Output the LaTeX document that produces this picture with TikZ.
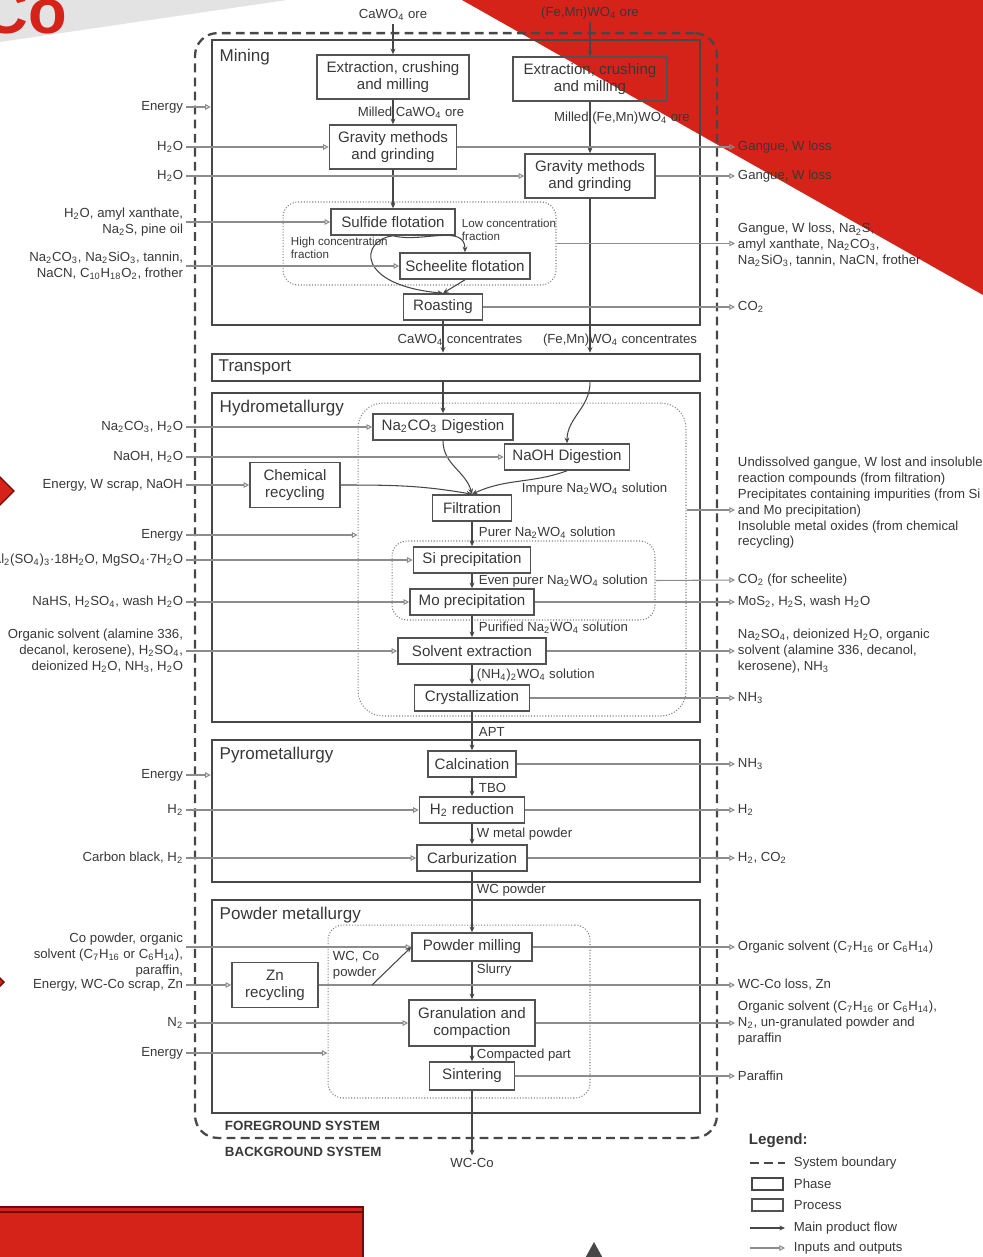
\documentclass[tikz,border=0pt]{standalone}
\usepackage{fontspec}
\setmainfont{Liberation Sans}
\usepackage{xcolor}
\usetikzlibrary{arrows.meta}
\definecolor{slidered}{RGB}{213,35,26}
\definecolor{slidedark}{RGB}{110,12,8}
\newcommand{\ssub}[1]{\textsubscript{#1}}

\begin{document}
\begin{tikzpicture}[x=0.02cm, y=-0.02cm,
    every node/.style={text=black!78, inner sep=1.5pt},
    proc/.style={draw=black!68, line width=0.9pt,
        minimum height=0.52cm, inner sep=1pt, align=center, font=\fontsize{8.6}{9.8}\selectfont},
    phasebox/.style={draw=black!72, line width=1.5pt, inner sep=0pt},
    region/.style={draw=black!50, densely dotted, line width=0.6pt, rounded corners=0.3cm, inner sep=0pt},
    sysbound/.style={draw=black!72, line width=1.3pt, dash pattern=on 5pt off 3pt},
    phasename/.style={font=\fontsize{9.7}{11}\selectfont, anchor=north west},
    lbl/.style={font=\fontsize{7.5}{9}\selectfont},
    smalllbl/.style={font=\fontsize{6.6}{7.6}\selectfont},
    inlbl/.style={lbl, anchor=east, align=right},
    outlbl/.style={lbl, anchor=west, align=left},
    flowlbl/.style={lbl, anchor=west},
    main/.style={draw=black!72, line width=0.6pt, -{Stealth[length=3.2pt,width=2.8pt]}},
    io/.style={draw=black!45, line width=0.6pt, -{Triangle[open,length=3.2pt,width=3.2pt]}}]
        \useasboundingbox (0,0) rectangle (983,1257);
        % Slide decoration
        \fill[black!11] (0,0) -- (287,0) -- (0,42) -- cycle;
        \node[font=\bfseries\fontsize{36}{36}\selectfont, text=slidered, anchor=base east, inner sep=0pt] (cotitle) at (67,34) {Co};
        \fill[slidered] (462,0) -- (983,0) -- (983,295) -- cycle;
        \filldraw[fill=slidered, draw=slidedark, line width=0.8pt] (-14,491) -- (0,477) -- (14,491) -- (0,505) -- cycle;
        \filldraw[fill=slidered, draw=slidedark, line width=0.8pt] (-14,982) -- (-5,973) -- (4,982) -- (-5,991) -- cycle;
        \filldraw[fill=slidered, draw=slidedark, line width=1.2pt] (-5,1207) rectangle (363,1262);
        \draw[slidedark, line width=0.6pt] (-5,1212) -- (363,1212);
        \fill[black!72] (583,1262) -- (594,1242) -- (605,1262) -- cycle;

        % System boundary and phases
        \node[sysbound, rounded corners=0.45cm, minimum width=10.44cm, minimum height=22.1cm] (sys) at (456,585.5) {};
        \node[phasebox, minimum width=9.76cm, minimum height=5.7cm] (mining) at (456,182.5) {};
        \node[phasename] at ([xshift=0.12cm,yshift=-0.14cm]mining.north west) {Mining};
        \node[phasebox, minimum width=9.76cm, minimum height=0.54cm] (transport) at (456,367.5) {};
        \node[phasename, anchor=west] at ([xshift=0.1cm]transport.west) {Transport};
        \node[phasebox, minimum width=9.76cm, minimum height=6.58cm] (hydro) at (456,557.5) {};
        \node[phasename] at ([xshift=0.12cm,yshift=-0.1cm]hydro.north west) {Hydrometallurgy};
        \node[phasebox, minimum width=9.76cm, minimum height=2.84cm] (pyro) at (456,811) {};
        \node[phasename] at ([xshift=0.12cm,yshift=-0.1cm]pyro.north west) {Pyrometallurgy};
        \node[phasebox, minimum width=9.76cm, minimum height=4.26cm] (powder) at (456,1006.5) {};
        \node[phasename] at ([xshift=0.12cm,yshift=-0.1cm]powder.north west) {Powder metallurgy};

        % Grouped steps
        \node[region, minimum width=5.46cm, minimum height=1.66cm] (flot) at (419.5,243.5) {};
        \node[region, rounded corners=0.5cm, minimum width=6.56cm, minimum height=6.26cm] (hreg) at (522,559.5) {};
        \node[region, minimum width=5.26cm, minimum height=1.58cm] (preg) at (523.5,580.5) {};
        \node[region, minimum width=5.24cm, minimum height=3.46cm] (pmreg) at (459,1011.5) {};

        % Mining
        \node[proc, minimum width=3.04cm, minimum height=0.88cm] (ext1) at (393,77) {Extraction, crushing\\and milling};
        \node[proc, minimum width=3.08cm, minimum height=0.88cm] (ext2) at (590,79) {Extraction, crushing\\and milling};
        \node[proc, minimum width=2.54cm, minimum height=0.88cm] (grav1) at (393,147) {Gravity methods\\and grinding};
        \node[proc, minimum width=2.6cm, minimum height=0.88cm] (grav2) at (590,176) {Gravity methods\\and grinding};
        \node[proc, minimum width=2.48cm] (sulf) at (393,222) {Sulfide flotation};
        \node[proc, minimum width=2.6cm] (sche) at (465,266) {Scheelite flotation};
        \node[proc, minimum width=1.58cm] (roast) at (443,307) {Roasting};
        % Hydrometallurgy
        \node[proc, minimum width=2.8cm] (naco) at (443,427) {Na\ssub{2}CO\ssub{3} Digestion};
        \node[proc, minimum width=2.5cm] (naoh) at (567,457) {NaOH Digestion};
        \node[proc, minimum width=1.8cm, minimum height=0.9cm] (chem) at (295,485) {Chemical\\recycling};
        \node[proc, minimum width=1.58cm] (filt) at (472,508) {Filtration};
        \node[proc, minimum width=2.34cm] (sipr) at (472,560) {Si precipitation};
        \node[proc, minimum width=2.48cm] (mopr) at (472,602) {Mo precipitation};
        \node[proc, minimum width=2.96cm] (solv) at (472,651) {Solvent extraction};
        \node[proc, minimum width=2.3cm] (crys) at (472,698) {Crystallization};
        % Pyrometallurgy
        \node[proc, minimum width=1.76cm] (calc) at (472,764) {Calcination};
        \node[proc, minimum width=2.1cm] (h2red) at (472,810) {H\ssub{2} reduction};
        \node[proc, minimum width=2.2cm] (carb) at (472,858) {Carburization};
        % Powder metallurgy
        \node[proc, minimum width=2.4cm, minimum height=0.56cm] (pmill) at (472,947) {Powder milling};
        \node[proc, minimum width=1.72cm, minimum height=0.9cm] (zn) at (275,985) {Zn\\recycling};
        \node[proc, minimum width=2.52cm, minimum height=0.92cm] (gran) at (472,1023) {Granulation and\\compaction};
        \node[proc, minimum width=1.7cm, minimum height=0.56cm] (sint) at (472,1076) {Sintering};

        % Main product flow
        \node[lbl] (oreCa) at (393,15) {CaWO\ssub{4} ore};
        \node[lbl] (oreFe) at (590,13) {(Fe,Mn)WO\ssub{4} ore};
        \draw[main] (oreCa) -- (ext1);
        \draw[main] (oreFe) -- (ext2);
        \draw[main] (ext1) -- (grav1);
        \node[lbl] at (411,113) {Milled CaWO\ssub{4} ore};
        \draw[main] (ext2) -- (grav2);
        \node[lbl] at (622,118) {Milled (Fe,Mn)WO\ssub{4} ore};
        \draw[main] (grav1) -- (sulf);
        \draw[main] (sulf.south) to[out=-15,in=90] (sche.north);
        \node[smalllbl, anchor=west, align=left] at (459,230) {Low concentration\\fraction};
        \draw[main] (sulf.south) .. controls (360,240) and (355,285) .. (roast.north);
        \node[smalllbl, anchor=west, align=left] at (288,248) {High concentration\\fraction};
        \draw[main] (sche.south) -- (roast.north);
        \draw[main] (roast.south) -- (roast.south |- transport.north);
        \draw[main] (grav2.south) -- (grav2.south |- transport.north);
        \node[lbl] at (460,340) {CaWO\ssub{4} concentrates};
        \node[lbl] at (620,340) {(Fe,Mn)WO\ssub{4} concentrates};
        \draw[main] (roast.south |- transport.south) -- (naco.north);
        \draw[main] (grav2.south |- transport.south) to[out=-90,in=90] (naoh.north);
        \draw[main] (naco.south) to[out=-90,in=105] (filt.north);
        \draw[main] (naoh.south) to[out=-160,in=25] (filt.north);
        \draw[main] (chem.east) to[out=0,in=170] (filt.north);
        \node[flowlbl] at (519,489) {Impure Na\ssub{2}WO\ssub{4} solution};
        \draw[main] (filt) -- (sipr);
        \node[flowlbl] at (476,533) {Purer Na\ssub{2}WO\ssub{4} solution};
        \draw[main] (sipr) -- (mopr);
        \node[flowlbl] at (476,581) {Even purer Na\ssub{2}WO\ssub{4} solution};
        \draw[main] (mopr) -- (solv);
        \node[flowlbl] at (476,628) {Purified Na\ssub{2}WO\ssub{4} solution};
        \draw[main] (solv) -- (crys);
        \node[flowlbl] at (474,675) {(NH\ssub{4})\ssub{2}WO\ssub{4} solution};
        \draw[main] (crys) -- (calc);
        \node[flowlbl] at (476,732) {APT};
        \draw[main] (calc) -- (h2red);
        \node[flowlbl] at (476,788) {TBO};
        \draw[main] (h2red) -- (carb);
        \node[flowlbl] at (474,834) {W metal powder};
        \draw[main] (carb) -- (pmill);
        \node[flowlbl] at (474,890) {WC powder};
        \draw[main] (pmill) -- (gran);
        \node[flowlbl] at (474,970) {Slurry};
        \draw[main] (gran) -- (sint);
        \node[flowlbl] at (474,1055) {Compacted part};
        \node[lbl] (wcco) at (472,1163) {WC-Co};
        \draw[main] (sint) -- (wcco);

        % Inputs
        \node[inlbl] (inM1) at (186,107) {Energy};
        \draw[io] (inM1.east) -- (inM1.east -| mining.west);
        \node[inlbl] (inM2) at (186,147) {H\ssub{2}O};
        \draw[io] (inM2.east) -- (grav1.west);
        \node[inlbl] (inM3) at (186,176) {H\ssub{2}O};
        \draw[io] (inM3.east) -- (grav2.west);
        \node[inlbl] (inM4) at (186,222) {H\ssub{2}O, amyl xanthate,\\Na\ssub{2}S, pine oil};
        \draw[io] (inM4.east) -- (sulf.west);
        \node[inlbl] (inM5) at (186,266) {Na\ssub{2}CO\ssub{3}, Na\ssub{2}SiO\ssub{3}, tannin,\\NaCN, C\ssub{10}H\ssub{18}O\ssub{2}, frother};
        \draw[io] (inM5.east) -- (sche.west);
        \node[inlbl] (inH1) at (186,427) {Na\ssub{2}CO\ssub{3}, H\ssub{2}O};
        \draw[io] (inH1.east) -- (naco.west);
        \node[inlbl] (inH2) at (186,457) {NaOH, H\ssub{2}O};
        \draw[io] (inH2.east) -- (naoh.west);
        \node[inlbl] (inH3) at (186,485) {Energy, W scrap, NaOH};
        \draw[io] (inH3.east) -- (chem.west);
        \node[inlbl] (inH4) at (186,535) {Energy};
        \draw[io] (inH4.east) -- (inH4.east -| hreg.west);
        \node[inlbl] (inH5) at (186,560) {Al\ssub{2}(SO\ssub{4})\ssub{3}·18H\ssub{2}O, MgSO\ssub{4}·7H\ssub{2}O};
        \draw[io] (inH5.east) -- (sipr.west);
        \node[inlbl] (inH6) at (186,602) {NaHS, H\ssub{2}SO\ssub{4}, wash H\ssub{2}O};
        \draw[io] (inH6.east) -- (mopr.west);
        \node[inlbl] (inH7) at (186,651) {Organic solvent (alamine 336,\\decanol, kerosene), H\ssub{2}SO\ssub{4},\\deionized H\ssub{2}O, NH\ssub{3}, H\ssub{2}O};
        \draw[io] (inH7.east) -- (solv.west);
        \node[inlbl] (inP1) at (186,775) {Energy};
        \draw[io] (inP1.east) -- (inP1.east -| pyro.west);
        \node[inlbl] (inP2) at (186,810) {H\ssub{2}};
        \draw[io] (inP2.east) -- (h2red.west);
        \node[inlbl] (inP3) at (186,858) {Carbon black, H\ssub{2}};
        \draw[io] (inP3.east) -- (carb.west);
        \node[inlbl] (inW1) at (186,955) {Co powder, organic\\solvent (C\ssub{7}H\ssub{16} or C\ssub{6}H\ssub{14}),\\paraffin,};
        \draw[io] (inW1.east |- pmill.west) -- (pmill.west);
        \node[inlbl] (inW2) at (186,985) {Energy, WC-Co scrap, Zn};
        \draw[io] (inW2.east) -- (zn.west);
        \node[inlbl] (inW3) at (186,1023) {N\ssub{2}};
        \draw[io] (inW3.east) -- (gran.west);
        \node[inlbl] (inW4) at (186,1053) {Energy};
        \draw[io] (inW4.east) -- (inW4.east -| pmreg.west);

        % Outputs
        \node[outlbl] (outM1) at (735,147) {Gangue, W loss};
        \draw[io] (grav1.east) -- (outM1.west);
        \node[outlbl] (outM2) at (735,176) {Gangue, W loss};
        \draw[io] (grav2.east) -- (outM2.west);
        \node[outlbl] (outM3) at (735,245) {Gangue, W loss, Na\ssub{2}S,\\amyl xanthate, Na\ssub{2}CO\ssub{3},\\Na\ssub{2}SiO\ssub{3}, tannin, NaCN, frother};
        \draw[io] (flot.east) -- (flot.east -| outM3.west);
        \node[outlbl] (outM4) at (735,307) {CO\ssub{2}};
        \draw[io] (roast.east) -- (outM4.west);
        \node[outlbl] (outH1) at (735,503) {Undissolved gangue, W lost and insoluble\\reaction compounds (from filtration)\\Precipitates containing impurities (from Si\\and Mo precipitation)\\Insoluble metal oxides (from chemical\\recycling)};
        \coordinate (outH1tip) at (735,510);
        \draw[io] (hreg.east |- outH1tip) -- (outH1tip);
        \node[outlbl] (outH2) at (735,580) {CO\ssub{2} (for scheelite)};
        \draw[io] (preg.east) -- (outH2.west);
        \node[outlbl] (outH3) at (735,602) {MoS\ssub{2}, H\ssub{2}S, wash H\ssub{2}O};
        \draw[io] (mopr.east) -- (outH3.west);
        \node[outlbl] (outH4) at (735,651) {Na\ssub{2}SO\ssub{4}, deionized H\ssub{2}O, organic\\solvent (alamine 336, decanol,\\kerosene), NH\ssub{3}};
        \draw[io] (solv.east) -- (outH4.west);
        \node[outlbl] (outH5) at (735,698) {NH\ssub{3}};
        \draw[io] (crys.east) -- (outH5.west);
        \node[outlbl] (outP1) at (735,764) {NH\ssub{3}};
        \draw[io] (calc.east) -- (outP1.west);
        \node[outlbl] (outP2) at (735,810) {H\ssub{2}};
        \draw[io] (h2red.east) -- (outP2.west);
        \node[outlbl] (outP3) at (735,858) {H\ssub{2}, CO\ssub{2}};
        \draw[io] (carb.east) -- (outP3.west);
        \node[outlbl] (outW1) at (735,947) {Organic solvent (C\ssub{7}H\ssub{16} or C\ssub{6}H\ssub{14})};
        \draw[io] (pmill.east) -- (outW1.west);
        \node[outlbl] (outW2) at (735,985) {WC-Co loss, Zn};
        \draw[io] (zn.east) -- (outW2.west);
        \coordinate (znsplit) at (372,985);
        \draw[main] (znsplit) -- (pmill.west);
        \node[lbl, anchor=west, align=left] at (330,965) {WC, Co\\powder};
        \node[outlbl] (outW3) at (735,1023) {Organic solvent (C\ssub{7}H\ssub{16} or C\ssub{6}H\ssub{14}),\\N\ssub{2}, un-granulated powder and\\paraffin};
        \draw[io] (gran.east) -- (outW3.west);
        \node[outlbl] (outW4) at (735,1076) {Paraffin};
        \draw[io] (sint.east) -- (outW4.west);

        % System labels
        \node[font=\bfseries\fontsize{7.6}{9}\selectfont, anchor=west] (fgsys) at (222,1126) {FOREGROUND SYSTEM};
        \node[font=\bfseries\fontsize{7.6}{9}\selectfont, anchor=west] (bgsys) at (222,1152) {BACKGROUND SYSTEM};

        % Legend
        \node[font=\bfseries\fontsize{8.6}{10}\selectfont, anchor=west] (lgHead) at (746,1141) {Legend:};
        \node[lbl, anchor=west] (lgSys) at (791,1163) {System boundary};
        \draw[sysbound, line width=1pt] ([xshift=-0.82cm]lgSys.west) -- ([xshift=-0.12cm]lgSys.west);
        \node[lbl, anchor=west] (lgPhase) at (791,1184) {Phase};
        \draw[phasebox, line width=1.3pt] ([xshift=-0.78cm,yshift=0.12cm]lgPhase.west) rectangle ([xshift=-0.16cm,yshift=-0.12cm]lgPhase.west);
        \node[lbl, anchor=west] (lgProc) at (791,1205) {Process};
        \draw[proc] ([xshift=-0.78cm,yshift=0.12cm]lgProc.west) rectangle ([xshift=-0.16cm,yshift=-0.12cm]lgProc.west);
        \node[lbl, anchor=west] (lgMain) at (791,1228) {Main product flow};
        \draw[main] ([xshift=-0.82cm]lgMain.west) -- ([xshift=-0.12cm]lgMain.west);
        \node[lbl, anchor=west] (lgIO) at (791,1248) {Inputs and outputs};
        \draw[io] ([xshift=-0.82cm]lgIO.west) -- ([xshift=-0.12cm]lgIO.west);
\end{tikzpicture}
\end{document}
